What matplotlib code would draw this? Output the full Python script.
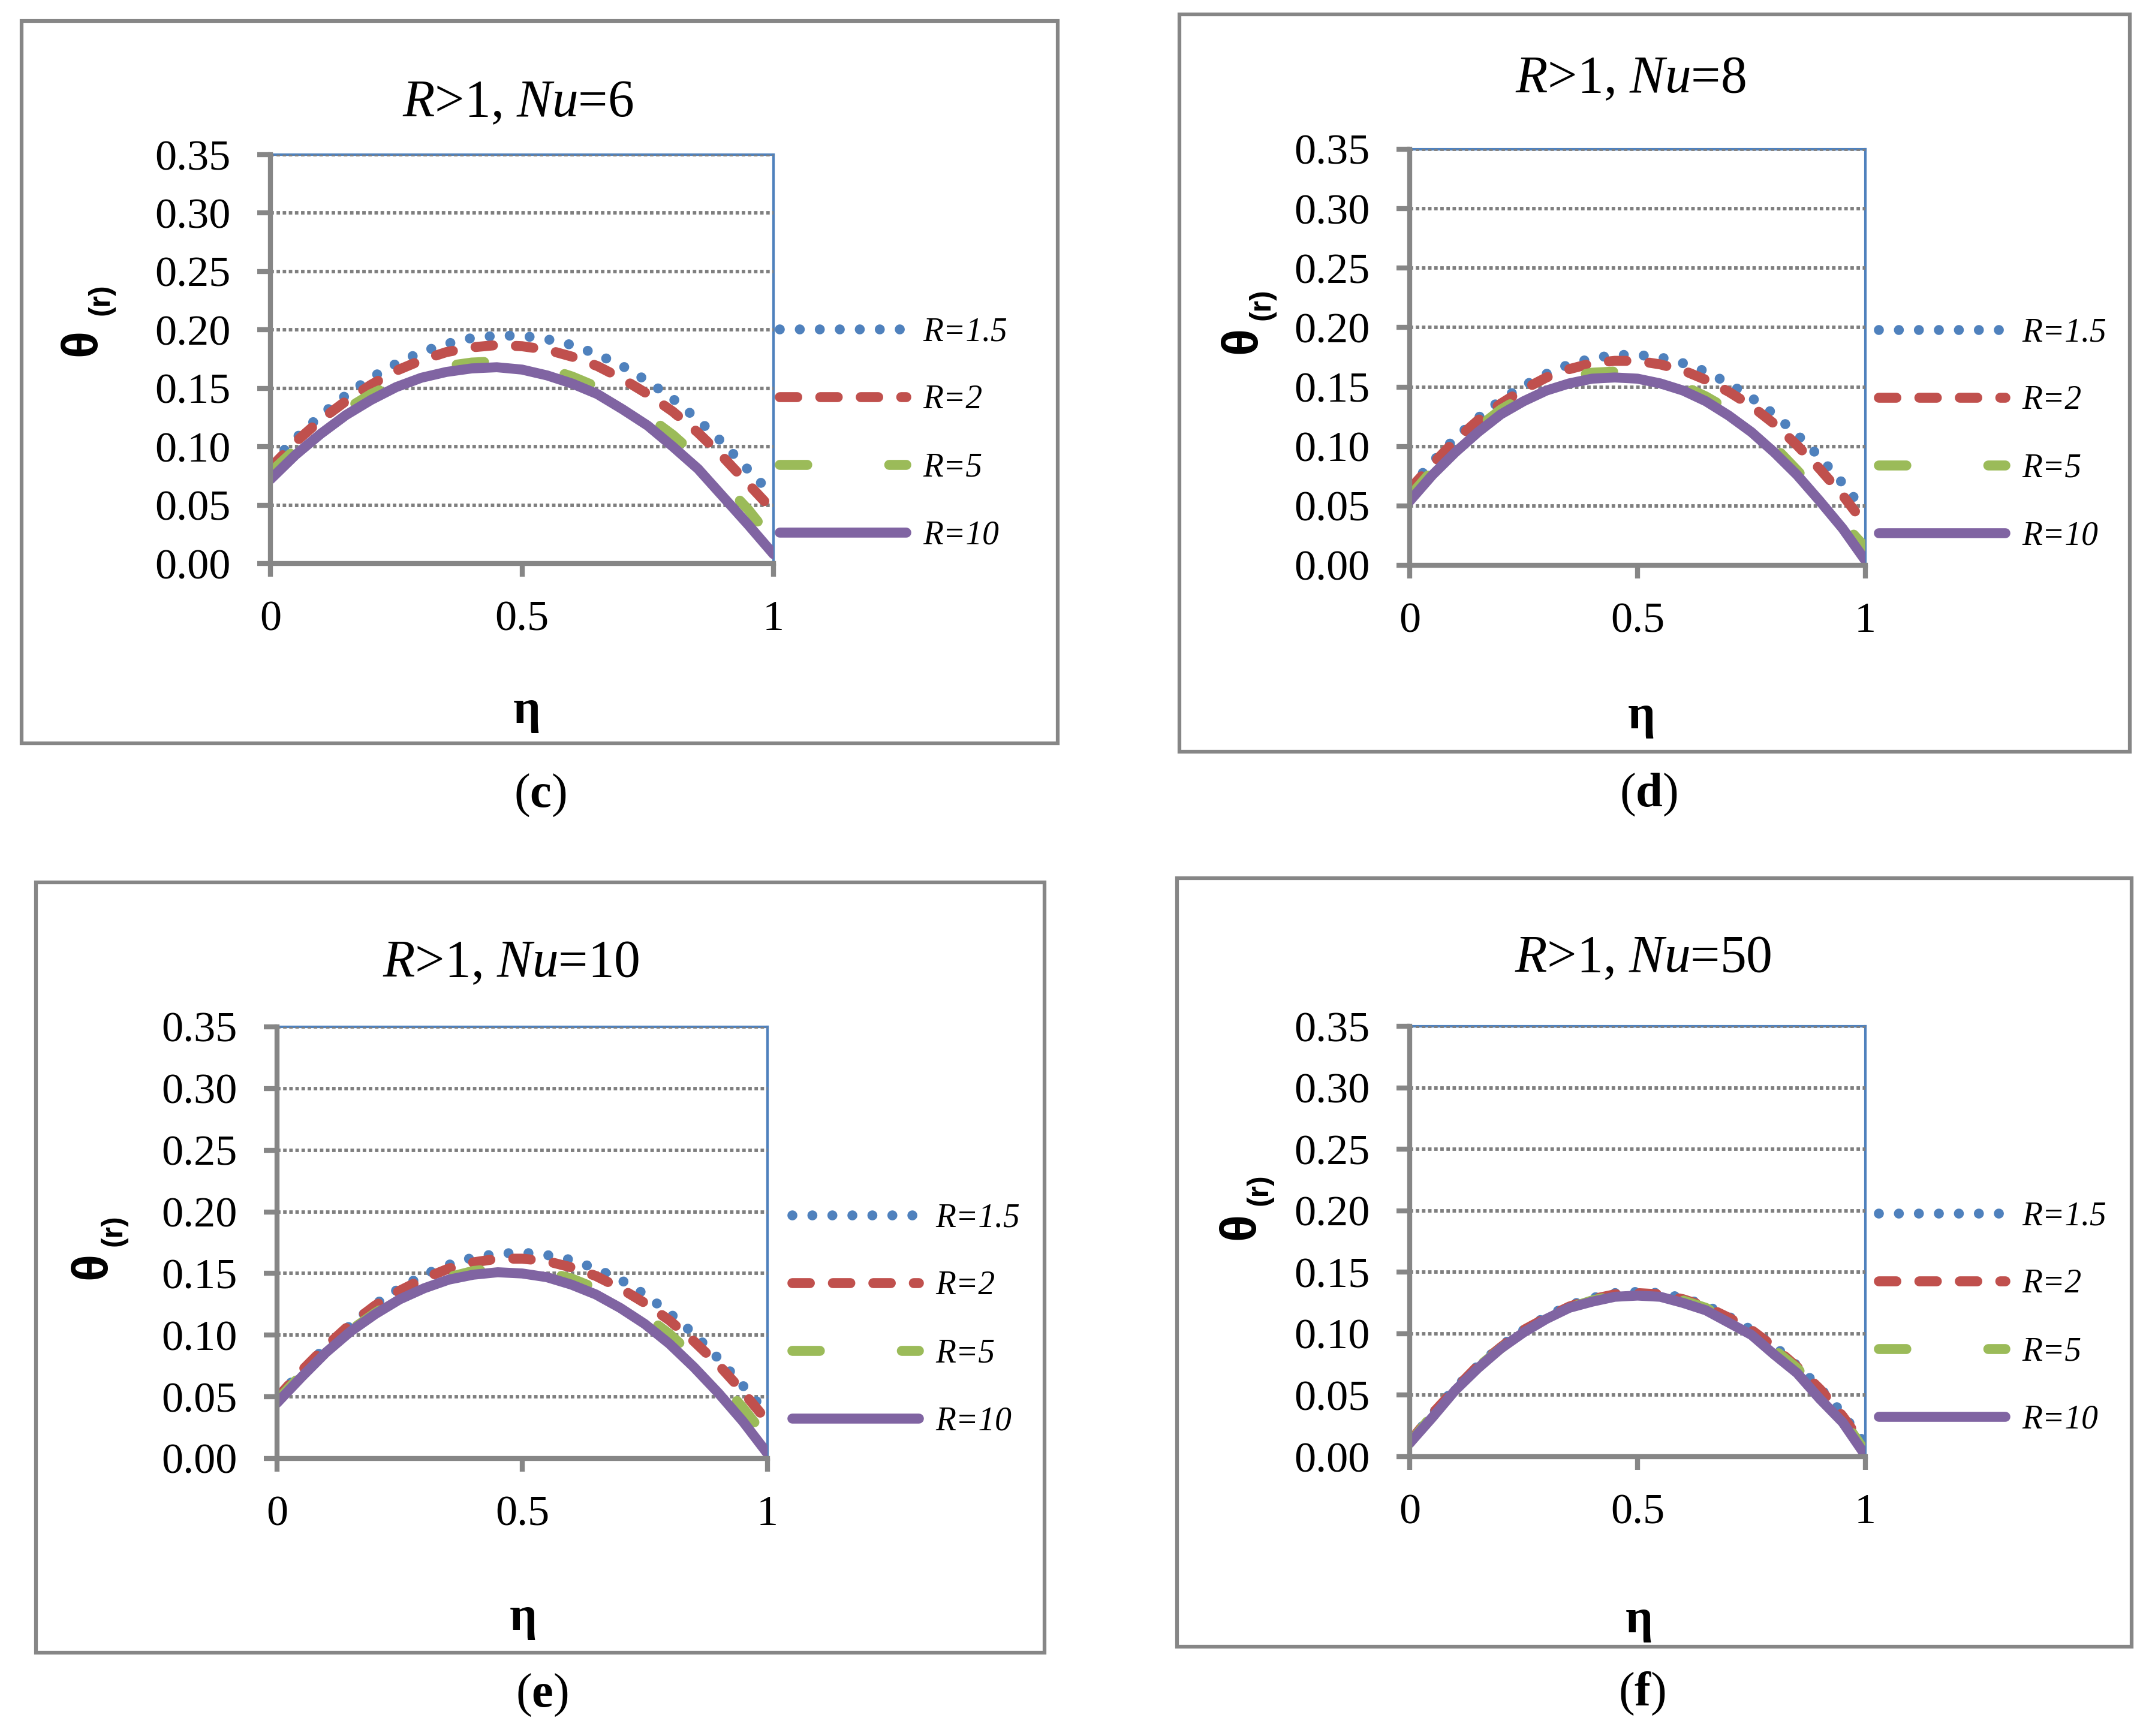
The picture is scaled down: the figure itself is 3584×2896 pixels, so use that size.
import matplotlib
matplotlib.use('Agg')
import matplotlib.pyplot as plt
from matplotlib.patches import Rectangle

plt.rcParams['font.family'] = 'Liberation Serif'
plt.rcParams['mathtext.fontset'] = 'custom'
plt.rcParams['mathtext.rm'] = 'Liberation Serif'
plt.rcParams['mathtext.it'] = 'Liberation Serif:italic'
plt.rcParams['mathtext.bf'] = 'Liberation Serif:bold'

W, H = 3584, 2896

# ---- data ----
eta = [0.00, 0.05, 0.10, 0.15, 0.20, 0.25, 0.30, 0.35, 0.40, 0.45, 0.50,
       0.55, 0.60, 0.65, 0.70, 0.75, 0.80, 0.85, 0.90, 0.95, 1.00]
r_labels = ['R=1.5', 'R=2', 'R=5', 'R=10']
nu_list = [6, 8, 10, 50]
panel_tags = ['c', 'd', 'e', 'f']

nu6_r15 = [0.085, 0.107, 0.127, 0.144, 0.159, 0.171, 0.181, 0.188, 0.193, 0.195, 0.195,
           0.192, 0.187, 0.179, 0.169, 0.156, 0.141, 0.123, 0.103, 0.080, 0.058]
nu6_r2 = [0.082, 0.104, 0.123, 0.139, 0.153, 0.165, 0.174, 0.181, 0.185, 0.187, 0.186,
          0.183, 0.177, 0.169, 0.158, 0.145, 0.130, 0.112, 0.091, 0.068, 0.045]
nu6_r5 = [0.078, 0.098, 0.116, 0.132, 0.145, 0.155, 0.163, 0.169, 0.172, 0.173, 0.171,
          0.167, 0.160, 0.151, 0.140, 0.126, 0.110, 0.091, 0.069, 0.046, 0.019]
nu6_r10 = [0.072, 0.093, 0.111, 0.127, 0.140, 0.151, 0.159, 0.164, 0.167, 0.168, 0.166,
           0.161, 0.154, 0.145, 0.132, 0.118, 0.100, 0.081, 0.057, 0.033, 0.008]

nu8_r15 = [0.065, 0.087, 0.107, 0.124, 0.139, 0.151, 0.161, 0.169, 0.174, 0.177, 0.177,
           0.175, 0.170, 0.163, 0.153, 0.141, 0.127, 0.110, 0.091, 0.069, 0.045]
nu8_r2 = [0.064, 0.085, 0.105, 0.122, 0.136, 0.148, 0.158, 0.165, 0.170, 0.172, 0.172,
          0.169, 0.164, 0.156, 0.146, 0.134, 0.119, 0.101, 0.081, 0.059, 0.034]
nu8_r5 = [0.058, 0.080, 0.099, 0.116, 0.131, 0.142, 0.151, 0.158, 0.162, 0.163, 0.162,
          0.158, 0.151, 0.142, 0.131, 0.116, 0.100, 0.080, 0.059, 0.036, 0.015]
nu8_r10 = [0.054, 0.076, 0.095, 0.112, 0.127, 0.138, 0.147, 0.153, 0.157, 0.158, 0.157,
           0.153, 0.147, 0.138, 0.126, 0.112, 0.095, 0.076, 0.054, 0.031, 0.004]

nu10_r15 = [0.050, 0.070, 0.091, 0.108, 0.125, 0.138, 0.149, 0.157, 0.163, 0.166, 0.167,
            0.165, 0.161, 0.154, 0.145, 0.133, 0.118, 0.101, 0.081, 0.059, 0.036]
nu10_r2 = [0.049, 0.071, 0.091, 0.109, 0.124, 0.136, 0.146, 0.154, 0.159, 0.162, 0.162,
           0.160, 0.155, 0.148, 0.138, 0.126, 0.112, 0.095, 0.076, 0.054, 0.030]
nu10_r5 = [0.047, 0.068, 0.087, 0.104, 0.118, 0.130, 0.140, 0.147, 0.152, 0.154, 0.154,
           0.151, 0.146, 0.138, 0.128, 0.116, 0.101, 0.083, 0.064, 0.041, 0.016]
nu10_r10 = [0.045, 0.066, 0.086, 0.103, 0.117, 0.129, 0.138, 0.145, 0.149, 0.151, 0.150,
            0.147, 0.141, 0.133, 0.122, 0.109, 0.093, 0.074, 0.053, 0.030, 0.004]

nu50_r15 = [0.012, 0.035, 0.056, 0.074, 0.090, 0.103, 0.114, 0.123, 0.129, 0.133, 0.134,
            0.133, 0.129, 0.123, 0.114, 0.103, 0.090, 0.074, 0.056, 0.035, 0.010]
nu50_r2 = [0.012, 0.035, 0.055, 0.074, 0.089, 0.103, 0.113, 0.122, 0.128, 0.132, 0.133,
           0.132, 0.128, 0.122, 0.113, 0.103, 0.089, 0.073, 0.055, 0.033, 0.007]
nu50_r5 = [0.011, 0.034, 0.055, 0.073, 0.088, 0.102, 0.112, 0.121, 0.127, 0.131, 0.132,
           0.131, 0.127, 0.121, 0.111, 0.101, 0.087, 0.072, 0.052, 0.031, 0.004]
nu50_r10 = [0.011, 0.032, 0.054, 0.072, 0.088, 0.101, 0.112, 0.121, 0.126, 0.130, 0.131,
            0.130, 0.125, 0.119, 0.109, 0.099, 0.083, 0.068, 0.047, 0.028, 0.001]

y_ticks = [0.0, 0.05, 0.10, 0.15, 0.20, 0.25, 0.30, 0.35]
x_ticks = [0, 0.5, 1]
x_ticklabels = ['0', '0.5', '1']

panel_series = [
    [nu6_r15, nu6_r2, nu6_r5, nu6_r10],
    [nu8_r15, nu8_r2, nu8_r5, nu8_r10],
    [nu10_r15, nu10_r2, nu10_r5, nu10_r10],
    [nu50_r15, nu50_r2, nu50_r5, nu50_r10],
]

# ---- styling / layout (pixels in the 3584x2896 canvas) ----
colors = ['#4F81BD', '#C0504D', '#9BBB59', '#8064A2']
styles = [(0, (0.001, 2.0)), (0, (1.75, 2.3)), (0, (2.75, 8.2)), '-']
grey = '#868686'

plot_px = [(451, 258, 1290, 940), (2351, 249, 3111, 943),
           (462, 1713, 1280, 2433), (2351, 1712, 3111, 2430)]
box_px = [(36, 35, 1764, 1240), (1967, 24, 3552, 1254),
          (60, 1472, 1742, 2757), (1963, 1465, 3555, 2747)]
title_px = [(864, 194), (2719, 154), (852, 1629), (2740, 1621)]
eta_px = [(879, 1187), (2738, 1196), (873, 2700), (2734, 2704)]
caption_px = [(901, 1327), (2749, 1326), (904, 2828), (2738, 2825)]
theta_px = [(137, 572), (2072, 568), (154, 2112), (2069, 2046)]
sub_px = [(168, 500), (2104, 508), (189, 2053), (2100, 1985)]
legend_px = [(1300, 724), (3133, 725), (1321, 2202), (3133, 2199)]


def fx(x):
    return x / W


def fy(y):
    return 1 - y / H


fig = plt.figure(figsize=(W / 100, H / 100), dpi=100)

for i in range(4):
    bx0, by0, bx1, by1 = box_px[i]
    fig.add_artist(Rectangle((fx(bx0), fy(by1)), (bx1 - bx0) / W, (by1 - by0) / H,
                             transform=fig.transFigure, fill=False, ec=grey, lw=4.5))

    x0, y0, x1, y1 = plot_px[i]
    ax = fig.add_axes([fx(x0), fy(y1), (x1 - x0) / W, (y1 - y0) / H])

    for vals, lab, col, ls in zip(panel_series[i], r_labels, colors, styles):
        ax.plot(eta, vals, color=col, lw=12, linestyle=ls, label=lab,
                dash_capstyle='round', solid_capstyle='round', solid_joinstyle='round')

    ax.set_xlim(0, 1)
    ax.set_ylim(0, 0.35)
    ax.set_xticks(x_ticks)
    ax.set_xticklabels(x_ticklabels)
    ax.set_yticks(y_ticks)
    ax.set_yticklabels([f'{v:.2f}' for v in y_ticks])
    ax.yaxis.grid(True, color='#7F7F7F', lw=4.2, linestyle=(0, (1.0, 0.75)))
    ax.set_axisbelow(True)

    for s in ['left', 'bottom']:
        ax.spines[s].set_color(grey)
        ax.spines[s].set_linewidth(6)
    for s in ['top', 'right']:
        ax.spines[s].set_color('#4F81BD')
        ax.spines[s].set_linewidth(3)
        ax.spines[s].set_zorder(0.5)

    ax.tick_params(direction='out', length=16, width=6, color=grey, labelsize=52)
    ax.tick_params(axis='y', pad=32)
    ax.tick_params(axis='x', pad=28)

    lx, ly = legend_px[i]
    ax.legend(loc='center left', bbox_to_anchor=(fx(lx), fy(ly)), bbox_transform=fig.transFigure,
              frameon=False, prop={'family': 'Liberation Serif', 'style': 'italic', 'size': 40},
              handlelength=3.8, handletextpad=0.5, labelspacing=1.1, borderpad=0, borderaxespad=0)

    tx, ty = title_px[i]
    fig.text(fx(tx), fy(ty), r'$R$>1, $Nu$=' + str(nu_list[i]), fontsize=63, ha='center', va='baseline')

    ex, ey = eta_px[i]
    fig.text(fx(ex), fy(ey), 'η', fontsize=58, fontweight='bold', ha='center', va='center')

    cx, cy = caption_px[i]
    fig.text(fx(cx), fy(cy), '($\\mathbf{' + panel_tags[i] + '}$)', fontsize=58, ha='center', va='center')

    qx, qy = theta_px[i]
    fig.text(fx(qx), fy(qy), 'θ', fontsize=60, fontweight='bold', family='Liberation Sans',
             rotation=90, ha='center', va='center')
    sx, sy = sub_px[i]
    fig.text(fx(sx), fy(sy), '(r)', fontsize=36, fontweight='bold', family='Liberation Sans',
             rotation=90, ha='center', va='center')

fig.savefig('out.png', dpi=100)
